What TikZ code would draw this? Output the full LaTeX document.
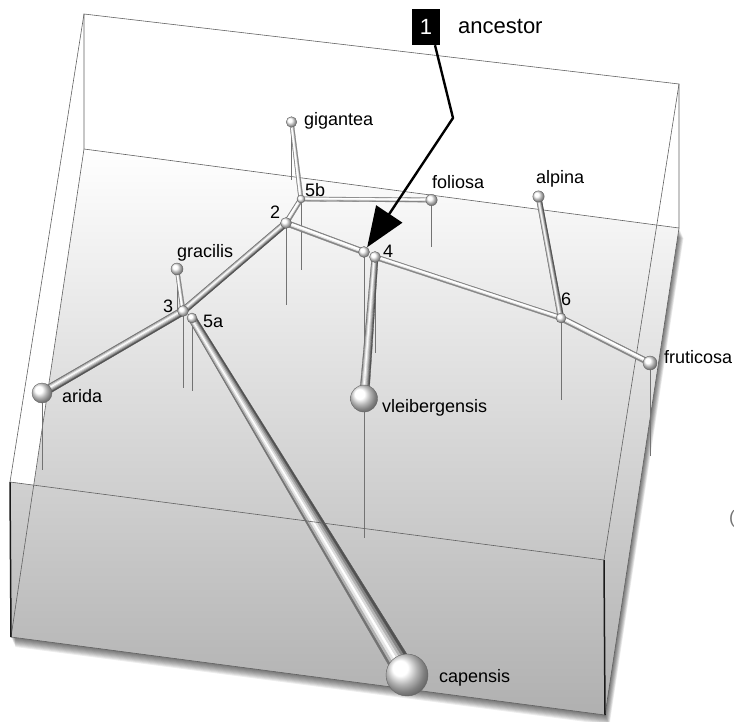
\documentclass[tikz,border=0pt]{standalone}
\usepackage{fontspec}
\newfontfamily\labfont{Liberation Sans}
\usetikzlibrary{calc,arrows.meta}
\pgfdeclarelayer{boxl}
\pgfdeclarelayer{tubel}
\pgfdeclarelayer{frontl}
\pgfsetlayers{boxl,tubel,frontl,main}

\def\darkprof{-1/-0.75/black!55, -0.75/-0.5/black!30, -0.5/-0.25/black!10, -0.25/0/white, 0/0.25/black!14, 0.25/0.5/black!30, 0.5/0.75/black!48, 0.75/1/black!68}
\def\lightprof{-1/-0.6/black!50, -0.6/0.2/white, 0.2/0.6/black!12, 0.6/1/black!48}
\newcommand\tubeAB[5]{%
  \foreach \sA/\sB/\tcol in #5 {%
    \filldraw[fill=\tcol, draw=\tcol, line width=0.3pt, line join=round]
      ($(#1)!\sA*#3!90:(#2)$) -- ($(#1)!\sB*#3!90:(#2)$) --
      ($(#2)!\sB*#4!-90:(#1)$) -- ($(#2)!\sA*#4!-90:(#1)$) -- cycle;
  }%
}

\begin{document}
\begin{tikzpicture}[x=1pt,y=-1pt,
  sph/.style={circle, inner sep=0pt, draw=black!60, line width=0.4pt, ball color=white},
  lbl/.style={font=\labfont\fontsize{18}{20}\selectfont, inner sep=0pt, anchor=base west, text=black},
  drop/.style={draw=black!55, line width=0.5pt},
  boxline/.style={draw=black!62, line width=0.6pt},
  frontedge/.style={draw=black!90, line width=1.5pt},
]
\useasboundingbox (0,0) rectangle (734,721);

% box corners
\coordinate (BTL) at (84,14);
\coordinate (BTR) at (679,84);
\coordinate (BBL) at (84,149);
\coordinate (BBR) at (679,228);
\coordinate (FTL) at (10,482);
\coordinate (FTR) at (604,560);
\coordinate (FBL) at (11,637);
\coordinate (FBR) at (605,715);
\coordinate (X) at (intersection of FTL--FTR and BBL--FBL);

% spheres
\node[sph, minimum size=10.6pt] (ngig) at (291.5,122) {};
\node[sph, minimum size=11.4pt] (nfol) at (431.5,200) {};
\node[sph, minimum size=11.4pt] (nalp) at (538.5,196.5) {};
\node[sph, minimum size=12pt] (ngra) at (177,269) {};
\node[sph, minimum size=20pt] (nari) at (42,393) {};
\node[sph, minimum size=27pt] (nvle) at (364,398.5) {};
\node[sph, minimum size=14pt] (nfru) at (650,363) {};
\node[sph, minimum size=42pt] (ncap) at (407,675) {};
\node[sph, minimum size=8pt] (n5b) at (301,199) {};
\node[sph, minimum size=11pt] (n2) at (286,223) {};
\node[sph, minimum size=11pt] (n4a) at (364,252) {};
\node[sph, minimum size=11pt] (n4b) at (375,257) {};
\node[sph, minimum size=11pt] (n3) at (183,311) {};
\node[sph, minimum size=10pt] (n5a) at (192,318) {};
\node[sph, minimum size=10pt] (n6) at (561,318) {};

% labels
\node[lbl] (lgig) at (304,125) {gigantea};
\node[lbl] (l5b) at (305,196) {5b};
\node[lbl] (lfol) at (432,188.5) {foliosa};
\node[lbl] (l2) at (270,218) {2};
\node[lbl] (l4) at (383,257) {4};
\node[lbl] (lgra) at (177,257) {gracilis};
\node[lbl] (l3) at (163,312) {3};
\node[lbl] (l5a) at (203,327) {5a};
\node[lbl] (lari) at (62,402) {arida};
\node[lbl] (lvle) at (382,412) {vleibergensis};
\node[lbl] (lalp) at (536,183) {alpina};
\node[lbl] (l6) at (561,305) {6};
\node[lbl] (lfru) at (664,363) {fruticosa};
\node[lbl] (lcap) at (439,682) {capensis};
\node[lbl, text=black!55] (paren) at (729,523) {(};

% ancestor marker
\node[fill=black, text=white, minimum width=28pt, minimum height=36pt, inner sep=0pt,
      font=\labfont\fontsize{22}{24}\selectfont] (one) at (426,27) {1};
\node[lbl, font=\labfont\fontsize{22}{24}\selectfont] (lanc) at (458,33) {ancestor};
\coordinate (kink) at (453,118);
\draw[line width=2.4pt, line join=round, -{Triangle[length=40pt,width=31pt]}]
  ($(one.south)+(9,0)$) -- (kink) -- (n4a);

% box
\begin{pgfonlayer}{boxl}
  \foreach \k in {1,...,10} {
    \fill[black, opacity=0.07]
      ([shift={(0.45*\k,1.0*\k)}]BBL) -- ([shift={(0.45*\k,1.0*\k)}]BBR) --
      ([shift={(0.45*\k,1.0*\k)}]FBR) -- ([shift={(0.45*\k,1.0*\k)}]FBL) --
      ([shift={(0.45*\k,1.0*\k)}]FTL) -- ([shift={(0.45*\k,1.0*\k)}]X) -- cycle;
  }
  \shade[top color=white, bottom color=black!31]
    (BBL) -- (BBR) -- (FBR) -- (FBL) -- (FTL) -- (X) -- cycle;
  \draw[boxline] (BTL) -- (BTR) -- (BBR) -- (BBL) -- cycle;
  \draw[boxline] (BTL) -- (FTL);
  \draw[boxline] (BTR) -- (FTR);
  \draw[boxline] (BBL) -- (FBL);
  \draw[boxline] (BBR) -- (FBR);
  \draw[boxline] (FBL) -- (FBR);
  \draw[frontedge] (FTL) -- (FBL);
  \draw[frontedge] (FTR) -- (FBR);
\end{pgfonlayer}

% drop lines and tubes
\begin{pgfonlayer}{tubel}
  \draw[drop] (ngig.center) -- ++(0,58);
  \draw[drop] (n5b.center) -- ++(0,71);
  \draw[drop] (n2.center) -- ++(0,82);
  \draw[drop] (nfol.center) -- ++(0,47);
  \draw[drop] (ngra.center) -- ++(0,44);
  \draw[drop] (n3.center) -- ++(0,77);
  \draw[drop] (n5a.center) -- ++(0,73);
  \draw[drop] (nari.center) -- ++(0,77);
  \draw[drop] (n4a.center) -- ++(0,143);
  \draw[drop] (n4b.center) -- ++(0,96);
  \draw[drop] (nvle.center) -- ++(0,139);
  \draw[drop] (n6.center) -- ++(0,82);
  \draw[drop] (nfru.center) -- ++(0,93);

  \tubeAB{n2}{n3}{3.3pt}{3.5pt}{\darkprof}
  \tubeAB{n3}{nari}{4pt}{4.3pt}{\darkprof}
  \tubeAB{ngra}{n3}{2pt}{2.3pt}{\lightprof}
  \tubeAB{n5a}{ncap}{4pt}{11pt}{\darkprof}
  \tubeAB{n4b}{nvle}{3.2pt}{4.8pt}{\darkprof}
  \tubeAB{nalp}{n6}{2.6pt}{3pt}{\darkprof}
  \tubeAB{n4a}{n2}{3pt}{3pt}{\lightprof}
  \tubeAB{n6}{n4b}{2.6pt}{2.6pt}{\lightprof}
  \tubeAB{nfru}{n6}{3pt}{3pt}{\lightprof}
  \tubeAB{nfol}{n5b}{2.2pt}{2.2pt}{\lightprof}
  \tubeAB{n5b}{n2}{2.4pt}{2.6pt}{\lightprof}
  \tubeAB{ngig}{n5b}{2pt}{2.3pt}{\lightprof}
\end{pgfonlayer}

\begin{pgfonlayer}{frontl}
  \draw[boxline] (FTL) -- (FTR);
\end{pgfonlayer}
\end{tikzpicture}
\end{document}
